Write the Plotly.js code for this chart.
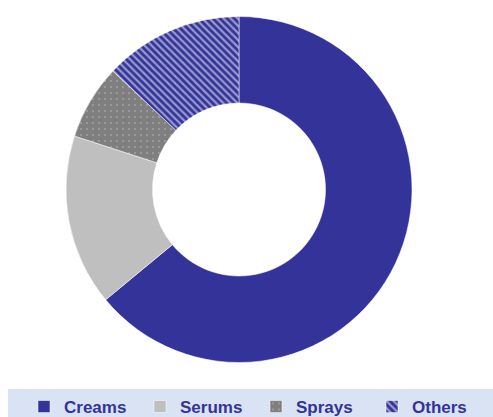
<!DOCTYPE html>
<html>
<head>
<meta charset="utf-8">
<script src="https://cdn.plot.ly/plotly-3.0.1.min.js"></script>
<style>html,body{margin:0;padding:0;background:#fff;}#chart{width:493px;height:417px;}</style>
</head>
<body>
<div id="chart"></div>
<script>
var categories = ["Creams", "Serums", "Sprays", "Others"];
var shares = [64, 16, 7, 13];
var colors = ["#333399", "#bfbfbf", "#7f7f7f", "#333399"];
var patternShapes = ["", "", ".", "\\"];

var trace = {
  type: "pie",
  labels: categories,
  values: shares,
  hole: 0.5,
  sort: false,
  direction: "clockwise",
  rotation: 0,
  textinfo: "none",
  hoverinfo: "label+percent",
  marker: {
    colors: colors,
    line: {width: 0.5, color: "#ffffff"},
    pattern: {
      shape: patternShapes,
      bgcolor: colors,
      fgcolor: ["#ffffff", "#ffffff", "#ffffff", "#ffffff"],
      fillmode: "overlay",
      size: [6, 6, 6, 5],
      solidity: [0.2, 0.2, 0.05, 0.45]
    }
  },
  domain: {x: [0.1339, 0.8357], y: [0.1295, 0.9616]}
};

var layout = {
  width: 493,
  height: 417,
  margin: {l: 0, r: 0, t: 0, b: 0, autoexpand: false},
  paper_bgcolor: "#ffffff",
  showlegend: true,
  shapes: [{
    type: "rect", xref: "paper", yref: "paper",
    x0: 8/493, x1: 1, y0: 0, y1: 28/417,
    fillcolor: "#dae3f3", line: {width: 0}, layer: "below"
  }],
  legend: {
    orientation: "h",
    x: 24/493, xanchor: "left",
    y: 10/417, yanchor: "middle",
    bgcolor: "rgba(0,0,0,0)",
    font: {family: "Liberation Sans, Arial, sans-serif", size: 17, color: "#333399", weight: "bold"},
    itemwidth: 30,
    entrywidth: 71,
    traceorder: "normal"
  }
};

Plotly.newPlot("chart", [trace], layout, {displayModeBar: false, staticPlot: true});
</script>
</body>
</html>
